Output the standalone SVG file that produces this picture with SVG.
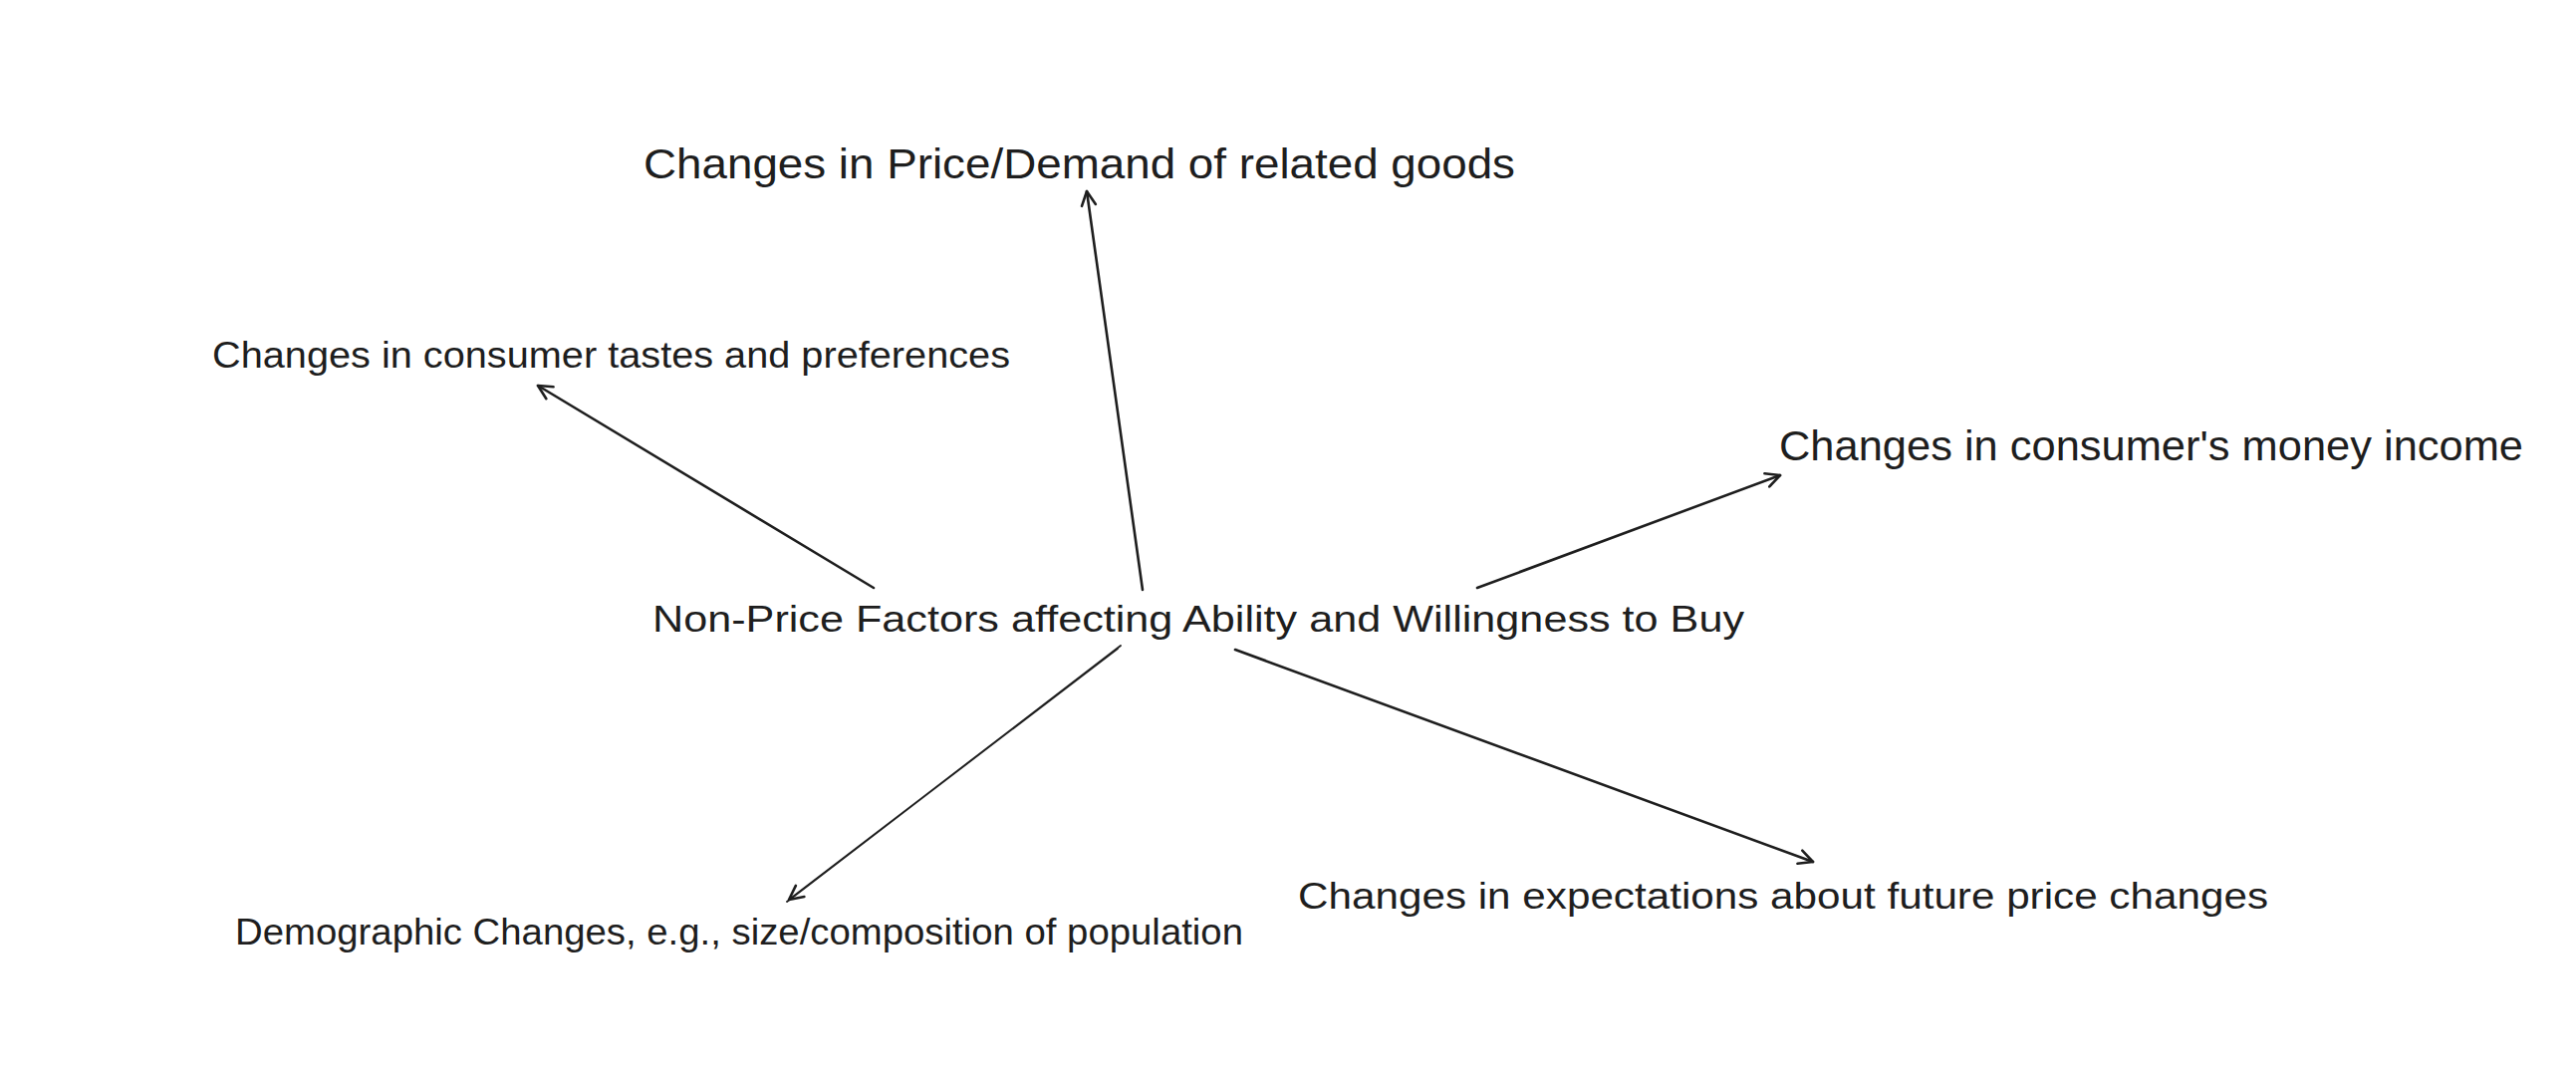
<svg xmlns="http://www.w3.org/2000/svg" width="2586" height="1088" viewBox="0 0 2586 1088">
  <style>
    .lbl { font-family: "Liberation Sans", "DejaVu Sans", sans-serif; fill: #1e1e1e; }
    .big { font-size: 42px; }
    .mid { font-size: 36px; }
    .conn { stroke: #1e1e1e; stroke-width: 2.6; fill: none; stroke-linecap: round; }
  </style>
  <defs>
    <marker id="arrow" viewBox="0 0 20 20" refX="18" refY="10" markerWidth="20" markerHeight="20" markerUnits="userSpaceOnUse" orient="auto">
      <path d="M4,3 L18,10 L4,17" fill="none" stroke="#1e1e1e" stroke-width="2.6" stroke-linecap="round" stroke-linejoin="round"/>
    </marker>
  </defs>
  <rect width="2586" height="1088" fill="#ffffff"/>

  <g id="connectors">
    <path class="conn" d="M877,590 L540,387" marker-end="url(#arrow)"/>
    <path class="conn" d="M1147,592 L1091,192" marker-end="url(#arrow)"/>
    <path class="conn" d="M1483,590 L1787,477" marker-end="url(#arrow)"/>
    <path class="conn" style="stroke-width:1.9" d="M1125,648 L790,905 M1122,651 L792,903" marker-end="url(#arrow)"/>
    <path class="conn" d="M1240,652 L1820,865" marker-end="url(#arrow)"/>
  </g>

  <g id="node-center">
    <text class="lbl" x="655" y="634" style="font-size:37px" textLength="1096" lengthAdjust="spacingAndGlyphs">Non-Price Factors affecting Ability and Willingness to Buy</text>
  </g>
  <g id="node-related-goods">
    <text class="lbl big" x="646" y="179" textLength="875" lengthAdjust="spacingAndGlyphs">Changes in Price/Demand of related goods</text>
  </g>
  <g id="node-tastes">
    <text class="lbl mid" x="213" y="369" textLength="801" lengthAdjust="spacingAndGlyphs">Changes in consumer tastes and preferences</text>
  </g>
  <g id="node-income">
    <text class="lbl big" x="1786" y="462" textLength="747" lengthAdjust="spacingAndGlyphs">Changes in consumer's money income</text>
  </g>
  <g id="node-demographic">
    <text class="lbl mid" x="236" y="948" textLength="1012" lengthAdjust="spacingAndGlyphs">Demographic Changes, e.g., size/composition of population</text>
  </g>
  <g id="node-expectations">
    <text class="lbl mid" x="1303" y="912" textLength="974" lengthAdjust="spacingAndGlyphs">Changes in expectations about future price changes</text>
  </g>
</svg>
